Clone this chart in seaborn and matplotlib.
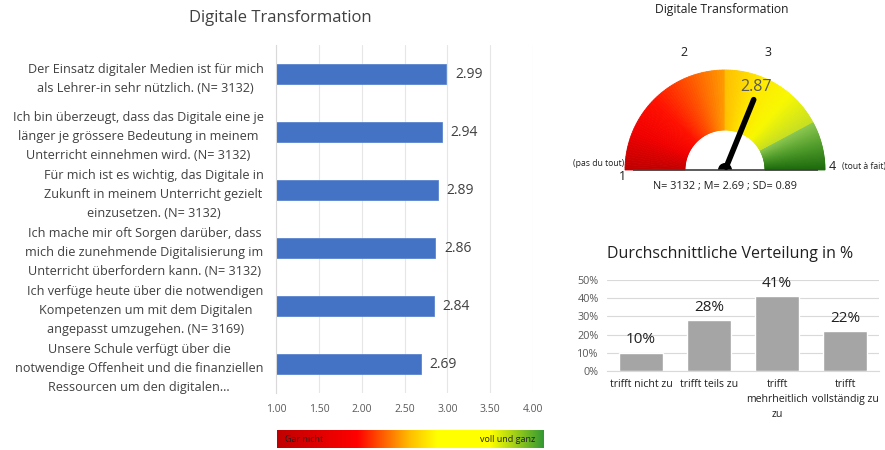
import numpy as np
import pandas as pd
import matplotlib
matplotlib.use("Agg")
import matplotlib.pyplot as plt
from matplotlib.patches import Wedge
from matplotlib.colors import LinearSegmentedColormap
import seaborn as sns

# --- Daten ---
aussagen = [
    "Der Einsatz digitaler Medien ist für mich\nals Lehrer-in sehr nützlich. (N= 3132)",
    "Ich bin überzeugt, dass das Digitale eine je\nlänger je grössere Bedeutung in meinem\nUnterricht einnehmen wird. (N= 3132)",
    "Für mich ist es wichtig, das Digitale in\nZukunft in meinem Unterricht gezielt\neinzusetzen. (N= 3132)",
    "Ich mache mir oft Sorgen darüber, dass\nmich die zunehmende Digitalisierung im\nUnterricht überfordern kann. (N= 3132)",
    "Ich verfüge heute über die notwendigen\nKompetenzen um mit dem Digitalen\nangepasst umzugehen. (N= 3169)",
    "Unsere Schule verfügt über die\nnotwendige Offenheit und die finanziellen\nRessourcen um den digitalen...",
]
mittelwerte = [2.99, 2.94, 2.89, 2.86, 2.84, 2.69]
x_ticks = [1.0, 1.5, 2.0, 2.5, 3.0, 3.5, 4.0]

kategorien = ["trifft nicht zu", "trifft teils zu", "trifft\nmehrheitlich\nzu", "trifft\nvollständig zu"]
anteile = [0.10, 0.28, 0.41, 0.22]
anteil_labels = ["10%", "28%", "41%", "22%"]

gauge_wert = 2.87
gauge_grenzen = [1.0, 2.5, 3.53, 4.0]
gauge_info = "N= 3132 ; M= 2.69 ; SD= 0.89"

W, H = 885, 450
TXT = "#404040"

sns.set_style("white")
plt.rcParams["font.family"] = ["Open Sans", "DejaVu Sans"]

fig = plt.figure(figsize=(W / 100, H / 100), dpi=100)


def pos(x0, y0, x1, y1):
    # Pixelrechteck -> Figurkoordinaten
    return [x0 / W, 1 - y1 / H, (x1 - x0) / W, (y1 - y0) / H]


# 1. Horizontale Balken
ax1 = fig.add_axes(pos(276, 45, 533, 393))
df = pd.DataFrame({"aussage": aussagen, "wert": mittelwerte})
sns.barplot(data=df, y="aussage", x="wert", color="#4472C4", saturation=1, width=0.35,
            edgecolor="#5B85D0", linewidth=0.6, ax=ax1)
ax1.set_xlim(1, 4)
ax1.set_xticks(x_ticks)
ax1.set_xticklabels([f"{v:.2f}" for v in x_ticks], fontsize=7.5, color="#595959")
ax1.set_yticks(range(len(aussagen)))
ax1.set_yticklabels(aussagen, fontsize=9.1, color=TXT, multialignment="center", linespacing=1.6)
ax1.tick_params(axis="y", length=0, pad=9)
ax1.tick_params(axis="x", length=0, pad=8)
ax1.grid(axis="x", color="#E6E6E6", lw=0.8)
ax1.set_axisbelow(True)
ax1.set_xlabel("")
ax1.set_ylabel("")
for s in ["top", "right", "bottom"]:
    ax1.spines[s].set_visible(False)
ax1.spines["left"].set_color("#D9D9D9")
for i, v in enumerate(mittelwerte):
    ax1.text(v + 0.1, i, f"{v:.2f}", va="center", ha="left", fontsize=10, color=TXT)
fig.text(280 / W, 1 - 18 / H, "Digitale Transformation", ha="center", va="center",
         fontsize=12, color=TXT)

# Farbskala unten
axc = fig.add_axes(pos(277, 430, 543, 448))
cmap_bar = LinearSegmentedColormap.from_list(
    "skala", [(0, "#C00000"), (0.3, "#FF0000"), (0.5, "#FFC000"), (0.6, "#FFFF00"),
              (0.8, "#FFFF00"), (1.0, "#339933")])
axc.imshow(np.linspace(0, 1, 256)[None, :], aspect="auto", cmap=cmap_bar)
axc.set_axis_off()
axc.text(0.03, 0.5, "Gar nicht", transform=axc.transAxes, ha="left", va="center",
         fontsize=6.5, color="#202020")
axc.text(0.97, 0.5, "voll und ganz", transform=axc.transAxes, ha="right", va="center",
         fontsize=6.5, color="#202020")

# 2. Tacho
axg = fig.add_axes(pos(600, 30, 860, 200))
axg.set_xlim(600 - 725, 860 - 725)
axg.set_ylim(170 - 200, 170 - 30)
axg.set_axis_off()
R, r = 100, 40


def winkel(v):
    return 180 - (v - 1) / 3 * 180


seg_cmaps = [
    LinearSegmentedColormap.from_list("rot", ["#C00000", "#F00000", "#FF1000", "#FF5000", "#FF9900"]),
    LinearSegmentedColormap.from_list("gelb", ["#FFC000", "#FFE800", "#F8F800", "#C8E020"]),
    LinearSegmentedColormap.from_list("gruen", ["#8CC850", "#4E9A2A", "#1E6B0E"]),
]
for k in range(3):
    a0, a1 = winkel(gauge_grenzen[k]), winkel(gauge_grenzen[k + 1])
    steps = np.linspace(a0, a1, 60)
    for j in range(len(steps) - 1):
        c = seg_cmaps[k](j / (len(steps) - 2))
        axg.add_patch(Wedge((0, 0), R, steps[j + 1], steps[j], width=R - r,
                            facecolor=c, edgecolor=c, lw=0.6))
axg.plot([-92, 93], [0, 0], color="#404040", lw=1.2, solid_capstyle="butt")

a = np.deg2rad(winkel(gauge_wert))
axg.plot([3 * np.cos(a), 76 * np.cos(a)], [3 * np.sin(a), 76 * np.sin(a)], color="black",
         lw=4, solid_capstyle="round")
axg.add_patch(Wedge((0, 0), 7, 0, 180, facecolor="black", edgecolor="none"))
axg.text(31, 83, f"{gauge_wert:.2f}", ha="center", va="center", fontsize=11.5, color="#595959")

axg.text(684 - 725, 170 - 52, "2", ha="center", va="center", fontsize=9, color="#202020")
axg.text(768 - 725, 170 - 52, "3", ha="center", va="center", fontsize=9, color="#202020")
axg.text(622 - 725, 170 - 176, "1", ha="center", va="center", fontsize=9, color="#202020")
axg.text(832 - 725, 170 - 166, "4", ha="center", va="center", fontsize=9, color="#202020")
axg.text(624 - 725, 170 - 163, "(pas du tout)", ha="right", va="center", fontsize=6.2,
         color="#202020")
axg.text(842 - 725, 170 - 166, "(tout à fait)", ha="left", va="center", fontsize=6.2,
         color="#202020")
axg.text(0, 170 - 187, gauge_info, ha="center", va="center", fontsize=7.8,
         color="#202020")
fig.text(722 / W, 1 - 10 / H, "Digitale Transformation", ha="center", va="center",
         fontsize=8.7, color="#202020")

# 3. Verteilung
axv = fig.add_axes(pos(607, 280, 879, 371))
dfv = pd.DataFrame({"kat": kategorien, "anteil": anteile})
sns.barplot(data=dfv, x="kat", y="anteil", color="#A5A5A5", width=0.66, ax=axv,
            saturation=1)
axv.set_ylim(0, 0.5)
axv.set_yticks([0, 0.1, 0.2, 0.3, 0.4, 0.5])
axv.set_yticklabels([f"{int(round(t * 100))}%" for t in axv.get_yticks()], fontsize=7.8,
                    color="#595959")
axv.set_xticks(range(len(kategorien)))
axv.set_xticklabels(kategorien, fontsize=7.6, color="#202020", linespacing=1.45)
axv.tick_params(length=0, pad=6)
axv.grid(axis="y", color="#D9D9D9", lw=0.8)
axv.set_axisbelow(True)
axv.set_xlabel("")
axv.set_ylabel("")
sns.despine(ax=axv, left=True, bottom=False)
axv.spines["bottom"].set_color("#D9D9D9")
for i, v in enumerate(anteile):
    axv.text(i, v + 0.03, anteil_labels[i], ha="center", va="bottom", fontsize=11,
             color="#202020")
fig.text(730 / W, 1 - 254 / H, "Durchschnittliche Verteilung in %", ha="center",
         va="center", fontsize=11.5, color="#202020")

fig.savefig("out.png", dpi=100)
